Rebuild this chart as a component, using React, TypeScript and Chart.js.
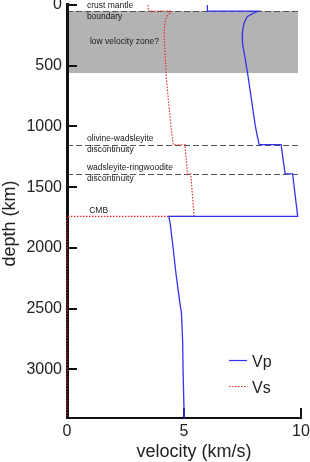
import React, { useEffect, useRef } from "react";
import { Chart, registerables } from "chart.js";

Chart.register(...registerables);

// ---- data (depth in km, velocity in km/s) ----
const vpDepth = [0, 50, 50, 68, 96, 151, 233, 316, 425, 590, 1000, 1150, 1150, 1390, 1390, 1740, 1740, 1800, 1990, 2200, 2350, 2500, 2530, 2760, 3000, 3330, 3400];
const vpVel = [6.0, 6.0, 8.17, 7.96, 7.7, 7.56, 7.49, 7.5, 7.6, 7.74, 8.05, 8.21, 9.15, 9.32, 9.64, 9.86, 4.35, 4.41, 4.53, 4.65, 4.75, 4.86, 4.89, 4.94, 4.96, 5.0, 5.01];

const vsDepth = [0, 50, 50, 68, 96, 151, 233, 370, 508, 612, 1000, 1150, 1150, 1390, 1390, 1740, 1740, 3400];
const vsVel = [3.47, 3.47, 4.49, 4.39, 4.25, 4.18, 4.15, 4.18, 4.22, 4.25, 4.44, 4.54, 5.04, 5.15, 5.29, 5.43, 0, 0];

const seriesLabels = ["Vp", "Vs"];
const xTickValues = [0, 5, 10];
const yTickValues = [0, 500, 1000, 1500, 2000, 2500, 3000];
const xRange = [0, 10];
const yRange = [0, 3400];

const boundaryDepths = [50, 1150, 1390];
const lowVelocityZone = [50, 560];
const boundaryLineEnd = 9.87;
const cmbDepth = 1740;

const annotationTexts = [
  "crust mantle",
  "boundary",
  "low velocity zone?",
  "olivine-wadsleyite",
  "discontinuity",
  "wadsleyite-ringwoodite",
  "discontinuity",
  "CMB",
];
const annotationDepths = [50, 50, 325, 1150, 1150, 1390, 1390, cmbDepth];

const FONT = '"Liberation Sans", Arial, Helvetica, sans-serif';
const VP_COLOR = "#3232ee";
const VS_COLOR = "#ee2222";

const overlayPlugin = {
  id: "overlay",
  beforeDatasetsDraw(chart: any) {
    const { ctx, chartArea: a, scales } = chart;
    const x = scales.x;
    const y = scales.y;
    ctx.save();
    // low velocity zone box
    const bx0 = x.getPixelForValue(0);
    const bx1 = x.getPixelForValue(boundaryLineEnd);
    const by0 = y.getPixelForValue(lowVelocityZone[0]);
    const by1 = y.getPixelForValue(lowVelocityZone[1]);
    ctx.fillStyle = "#b3b3b3";
    ctx.fillRect(bx0, by0, bx1 - bx0, by1 - by0);

    // dashed boundaries
    ctx.strokeStyle = "#555555";
    ctx.lineWidth = 1;
    ctx.setLineDash([6, 3]);
    boundaryDepths.forEach((d) => {
      const py = Math.round(y.getPixelForValue(d)) + 0.5;
      ctx.beginPath();
      ctx.moveTo(bx0, py);
      ctx.lineTo(bx1, py);
      ctx.stroke();
    });
    ctx.setLineDash([]);

    // annotations
    const offsets = [-2.7, 7.8, 0, -3.5, 7, -3.5, 7, -3];
    const xs = [0.85, 0.85, 0.98, 0.85, 0.85, 0.85, 0.85, 0.95];
    ctx.fillStyle = "#1a1a1a";
    ctx.font = `8.5px ${FONT}`;
    ctx.textAlign = "left";
    ctx.textBaseline = "alphabetic";
    annotationTexts.forEach((t, i) => {
      ctx.fillText(t, x.getPixelForValue(xs[i]), y.getPixelForValue(annotationDepths[i]) + offsets[i]);
    });

    // axes
    ctx.fillStyle = "#111111";
    ctx.fillRect(a.left - 1, a.top - 2, 3, a.bottom - a.top + 3);
    ctx.fillRect(a.left, a.bottom - 1, a.right - a.left + 1, 2);
    yTickValues.forEach((v) => {
      const py = Math.round(y.getPixelForValue(v));
      ctx.fillRect(a.left, py - 1, 10, 2);
    });
    xTickValues.forEach((v) => {
      if (v === xRange[0]) return;
      const px = Math.round(x.getPixelForValue(v));
      ctx.fillRect(px - 1, a.bottom - 10, 2, 10);
    });
    ctx.restore();
  },
  afterDraw(chart: any) {
    const { ctx, chartArea: a } = chart;
    ctx.save();
    // axis titles
    ctx.fillStyle = "#222222";
    ctx.font = `18px ${FONT}`;
    ctx.textAlign = "center";
    ctx.textBaseline = "alphabetic";
    ctx.fillText("velocity (km/s)", (a.left + a.right) / 2 + 10, 457);
    ctx.translate(15, (a.top + a.bottom) / 2 + 12);
    ctx.rotate(-Math.PI / 2);
    ctx.fillText("depth (km)", 0, 0);
    ctx.restore();

    // legend
    ctx.save();
    const items = chart.data.datasets;
    const rows = [360, 386];
    items.forEach((ds: any, i: number) => {
      const ly = rows[i] + 0.5;
      ctx.strokeStyle = ds.borderColor;
      ctx.lineWidth = 1.2;
      ctx.setLineDash(ds.borderDash || []);
      ctx.beginPath();
      ctx.moveTo(229, ly);
      ctx.lineTo(247, ly);
      ctx.stroke();
      ctx.setLineDash([]);
      ctx.fillStyle = "#222222";
      ctx.font = `16px ${FONT}`;
      ctx.textAlign = "left";
      ctx.textBaseline = "alphabetic";
      ctx.fillText(ds.label, 252, rows[i] + 7);
    });
    ctx.restore();
  },
};

export default function App() {
  const ref = useRef<HTMLCanvasElement | null>(null);
  useEffect(() => {
    if (!ref.current) return;
    const chart = new Chart(ref.current, {
      type: "scatter",
      data: {
        datasets: [
          {
            label: seriesLabels[0],
            data: vpDepth.map((d, i) => ({ x: vpVel[i], y: d })),
            showLine: true,
            borderColor: VP_COLOR,
            borderWidth: 1.3,
            pointRadius: 0,
            clip: false as any,
          },
          {
            label: seriesLabels[1],
            data: vsDepth.map((d, i) => ({ x: vsVel[i], y: d })),
            showLine: true,
            borderColor: VS_COLOR,
            borderWidth: 1.1,
            borderDash: [1.5, 1.5],
            pointRadius: 0,
            clip: false as any,
          },
        ],
      },
      options: {
        animation: false,
        responsive: false,
        maintainAspectRatio: false,
        layout: { padding: { top: 5, right: 9, left: 0, bottom: 0 } },
        plugins: { legend: { display: false }, tooltip: { enabled: false } },
        scales: {
          x: {
            type: "linear",
            min: xRange[0],
            max: xRange[1],
            grid: { display: false, drawTicks: false },
            border: { display: false },
            ticks: {
              padding: 4,
              color: "#222222",
              font: { family: FONT, size: 16 },
              maxRotation: 0,
              autoSkip: false,
              callback: (v: any) => String(v),
            },
            afterBuildTicks: (s: any) => {
              s.ticks = xTickValues.map((v) => ({ value: v }));
            },
            afterFit: (s: any) => {
              s.height = 44;
              s.paddingLeft = 0;
              s.paddingRight = 0;
            },
          },
          y: {
            type: "linear",
            reverse: true,
            min: yRange[0],
            max: yRange[1],
            grid: { display: false, drawTicks: false },
            border: { display: false },
            ticks: {
              padding: 5,
              color: "#222222",
              font: { family: FONT, size: 16 },
              autoSkip: false,
              callback: (v: any) => String(v),
            },
            afterBuildTicks: (s: any) => {
              s.ticks = yTickValues.map((v) => ({ value: v }));
            },
            afterFit: (s: any) => {
              s.width = 67;
              s.paddingTop = 0;
              s.paddingBottom = 0;
            },
          },
        },
      } as any,
      plugins: [overlayPlugin],
    });
    return () => chart.destroy();
  }, []);
  return (
    <div style={{ position: "fixed", left: 0, top: 0, width: 310, height: 462, background: "#fff" }}>
      <canvas ref={ref} width={310} height={462} style={{ display: "block", width: 310, height: 462 }} />
    </div>
  );
}
